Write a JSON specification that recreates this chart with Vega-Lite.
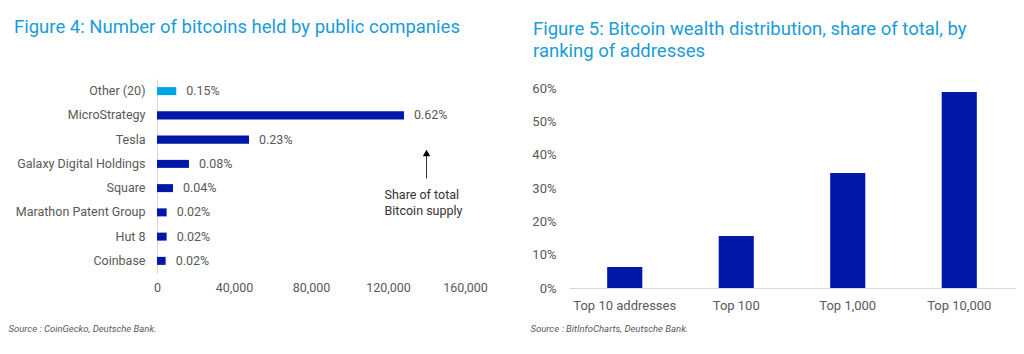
{
  "$schema": "https://vega.github.io/schema/vega-lite/v6.json",
  "background": "white",
  "padding": {"left": 8, "top": 17, "right": 5, "bottom": 5},
  "spacing": 42,
  "config": {
    "view": {"stroke": null},
    "font": "Roboto",
    "title": {"font": "Roboto", "fontSize": 18.5, "fontWeight": "normal", "color": "#1a9bd8", "anchor": "start", "frame": "bounds"},
    "axis": {"labelFont": "Roboto", "labelFontSize": 12.5, "labelColor": "#595959", "ticks": false, "grid": false, "domainColor": "#d9d9d9", "labelFlush": false}
  },
  "datasets": {
    "companies": [
      {"company": "Other (20)", "btc": 10000, "share": "0.15%", "kind": "other"},
      {"company": "MicroStrategy", "btc": 128300, "share": "0.62%", "kind": "company"},
      {"company": "Tesla", "btc": 47800, "share": "0.23%", "kind": "company"},
      {"company": "Galaxy Digital Holdings", "btc": 16600, "share": "0.08%", "kind": "company"},
      {"company": "Square", "btc": 8300, "share": "0.04%", "kind": "company"},
      {"company": "Marathon Patent Group", "btc": 5000, "share": "0.02%", "kind": "company"},
      {"company": "Hut 8", "btc": 5000, "share": "0.02%", "kind": "company"},
      {"company": "Coinbase", "btc": 4500, "share": "0.02%", "kind": "company"}
    ],
    "wealth": [
      {"rank": "Top 10 addresses", "share": 0.063},
      {"rank": "Top 100", "share": 0.156},
      {"rank": "Top 1,000", "share": 0.345},
      {"rank": "Top 10,000", "share": 0.588}
    ]
  },
  "hconcat": [
    {
      "title": {"text": "Figure 4: Number of bitcoins held by public companies", "offset": 43, "dx": 6},
      "width": 308,
      "height": 194,
      "layer": [
        {
          "data": {"name": "companies"},
          "encoding": {
            "y": {"field": "company", "type": "nominal", "sort": null,
                  "scale": {"paddingInner": 0.67, "paddingOuter": 0.335},
                  "axis": {"title": null, "labelPadding": 12, "domainColor": "#d9d9d9"}},
            "x": {"field": "btc", "type": "quantitative",
                  "scale": {"domain": [0, 160000], "nice": false},
                  "axis": {"values": [0, 40000, 80000, 120000, 160000], "format": ",d", "domain": false, "labelPadding": 8,
                           "title": "Source : CoinGecko, Deutsche Bank.", "titleFont": "Roboto", "titleFontSize": 9.5, "titleFontStyle": "italic", "titleFontWeight": "normal", "titleColor": "#595959",
                           "titleAnchor": "start", "titleAlign": "left", "titleX": -149, "titleY": 55, "titleBaseline": "middle"}}
          },
          "layer": [
            {
              "mark": {"type": "bar"},
              "encoding": {
                "color": {"field": "kind", "type": "nominal", "scale": {"domain": ["other", "company"], "range": ["#00a3e6", "#0018a8"]}, "legend": null}
              }
            },
            {
              "mark": {"type": "text", "align": "left", "baseline": "middle", "dx": 10, "fontSize": 12.5, "color": "#595959"},
              "encoding": {"text": {"field": "share"}}
            }
          ]
        },
        {
          "data": {"values": [{}]},
          "layer": [
            {
              "mark": {"type": "rule", "color": "#333333", "strokeWidth": 1},
              "encoding": {
                "x": {"datum": 140000, "type": "quantitative"},
                "y": {"datum": 3.05, "type": "quantitative", "scale": {"domain": [0, 8], "reverse": true, "nice": false, "zero": false}, "axis": null},
                "y2": {"datum": 4.1}
              }
            },
            {
              "mark": {"type": "point", "shape": "triangle-up", "filled": true, "color": "#000000", "size": 55, "opacity": 1},
              "encoding": {
                "x": {"datum": 140000, "type": "quantitative"},
                "y": {"datum": 3.05, "type": "quantitative"}
              }
            },
            {
              "mark": {"type": "text", "align": "left", "baseline": "top", "fontSize": 12.5, "lineHeight": 16, "color": "#333333"},
              "encoding": {
                "x": {"datum": 118200, "type": "quantitative"},
                "y": {"datum": 4.55, "type": "quantitative"},
                "text": {"value": ["Share of total", "Bitcoin supply"]}
              }
            }
          ]
        }
      ],
      "resolve": {"scale": {"y": "independent"}, "axis": {"y": "independent"}}
    },
    {
      "title": {"text": ["Figure 5: Bitcoin wealth distribution, share of total, by", "ranking of addresses"], "offset": 19, "lineHeight": 22, "dx": 3},
      "width": 446,
      "height": 209,
      "data": {"name": "wealth"},
      "mark": {"type": "bar", "color": "#0018a8"},
      "encoding": {
        "x": {"field": "rank", "type": "nominal", "sort": null,
              "scale": {"paddingInner": 0.685, "paddingOuter": 0.3425},
              "axis": {"labelAngle": 0, "labelPadding": 11, "labelFontSize": 13, "domainColor": "#d9d9d9",
                       "title": "Source : BitInfoCharts, Deutsche Bank.", "titleFont": "Roboto", "titleFontSize": 9.5, "titleFontStyle": "italic", "titleFontWeight": "normal", "titleColor": "#595959",
                       "titleAnchor": "start", "titleAlign": "left", "titleX": -39, "titleY": 40, "titleBaseline": "middle"}},
        "y": {"field": "share", "type": "quantitative",
              "scale": {"domain": [0, 0.627], "nice": false},
              "axis": {"values": [0, 0.1, 0.2, 0.3, 0.4, 0.5, 0.6], "format": ".0%", "domain": false, "labelPadding": 13, "labelFontSize": 13, "title": null}}
      }
    }
  ]
}
